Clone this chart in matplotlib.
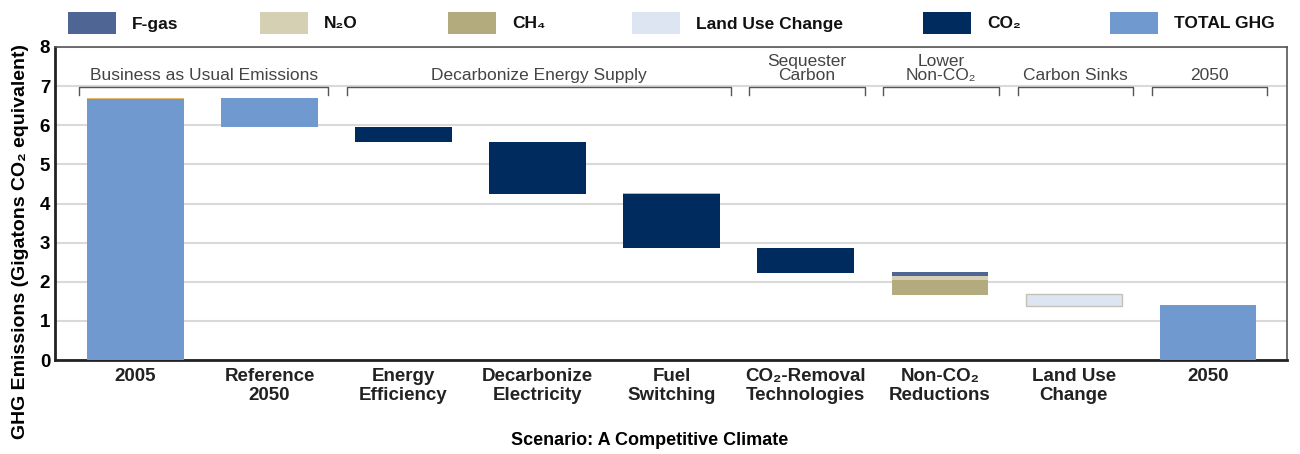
import numpy as np
import matplotlib.pyplot as plt
from matplotlib.patches import Rectangle

plt.rcParams['font.family'] = ['Liberation Sans', 'DejaVu Sans']

# categorias do waterfall
categorias = ['2005', 'Reference\n2050', 'Energy\nEfficiency', 'Decarbonize\nElectricity',
              'Fuel\nSwitching', 'CO₂-Removal\nTechnologies', 'Non-CO₂\nReductions',
              'Land Use\nChange', '2050']

# (indice, base, topo) de cada serie
total_ghg = [(0, 0.0, 6.67), (1, 5.95, 6.70), (8, 0.0, 1.40)]
co2 = [(2, 5.58, 5.96), (3, 4.25, 5.58), (4, 2.86, 4.25), (5, 2.23, 2.86)]
fgas = [(6, 2.15, 2.24)]
n2o = [(6, 2.05, 2.15)]
ch4 = [(6, 1.66, 2.05)]
land_use = [(7, 1.39, 1.70)]
traco = [(0, 6.67, 6.70), (4, 4.25, 4.28)]

# grupos (texto, primeira categoria, ultima categoria)
grupos = [('Business as Usual Emissions', 0, 1), ('Decarbonize Energy Supply', 2, 4),
          ('Sequester\nCarbon', 5, 5), ('Lower\nNon-CO₂', 6, 6),
          ('Carbon Sinks', 7, 7), ('2050', 8, 8)]

cores = {'F-gas': '#4f6593', 'N₂O': '#d5cfb4', 'CH₄': '#b3aa7e',
         'Land Use Change': '#dde5f2', 'CO₂': '#002b5f', 'TOTAL GHG': '#7099cf'}

W, H = 1300, 454
fig = plt.figure(figsize=(13, 4.54), dpi=100)
ax = fig.add_axes([0.0423, 0.207, 0.9477, 0.6895])

w = 0.72
def barras(serie, cor, **kw):
    for i, b, t in serie:
        ax.bar(i, t - b, bottom=b, width=w, color=cor, zorder=3, **kw)

barras(total_ghg, cores['TOTAL GHG'])
barras(co2, cores['CO₂'])
barras(fgas, cores['F-gas'])
barras(n2o, cores['N₂O'])
barras(ch4, cores['CH₄'])
barras(land_use, cores['Land Use Change'], edgecolor='#c4c2b8', linewidth=1)
barras(traco[:1], '#e8b66a')
barras(traco[1:], '#c9b48a')

ax.set_xlim(-0.6, 8.59)
ax.set_ylim(0, 8)
ax.set_yticks(range(9))
ax.set_xticks(range(len(categorias)))
ax.set_xticklabels(categorias, fontsize=13, fontweight='bold', color='#222222', linespacing=1.15)
ax.tick_params(axis='both', length=0, labelsize=13.5)
ax.tick_params(axis='x', pad=6)
for lab in ax.get_yticklabels():
    lab.set_fontweight('bold')
ax.yaxis.grid(True, color='#d9d9d9', linewidth=1.5, zorder=0)
ax.set_axisbelow(True)
for s in ['left', 'bottom']:
    ax.spines[s].set_linewidth(2)
    ax.spines[s].set_color('#222222')
for s in ['top', 'right']:
    ax.spines[s].set_linewidth(1.2)
    ax.spines[s].set_color('#555555')

# chaves dos grupos
for texto, a, b in grupos:
    x0, x1 = a - 0.42, b + 0.44
    ax.plot([x0, x0, x1, x1], [6.78, 6.98, 6.98, 6.78], color='#555555', lw=1, zorder=4)
    ax.text((x0 + x1) / 2, 7.08, texto, ha='center', va='bottom', fontsize=12.5,
            color='#444444', linespacing=0.95)

ax.set_ylabel('GHG Emissions (Gigatons CO₂ equivalent)', fontsize=14, fontweight='bold')
ax.yaxis.set_label_coords(-0.021, 0.38)
fig.text(0.5, 0.02, 'Scenario: A Competitive Climate', ha='center', fontsize=13, fontweight='bold')

# legenda manual no topo
leg_x = [68, 260, 448, 632, 923, 1110]
for (nome, cor), x in zip(cores.items(), leg_x):
    fig.add_artist(Rectangle((x / W, 1 - 34 / H), 48 / W, 22 / H, facecolor=cor,
                             transform=fig.transFigure))
    fig.text((x + 64) / W, 1 - 24 / H, nome, ha='left', va='center', fontsize=12.5,
             fontweight='bold', color='#111111')

fig.savefig('out.png', dpi=100)
